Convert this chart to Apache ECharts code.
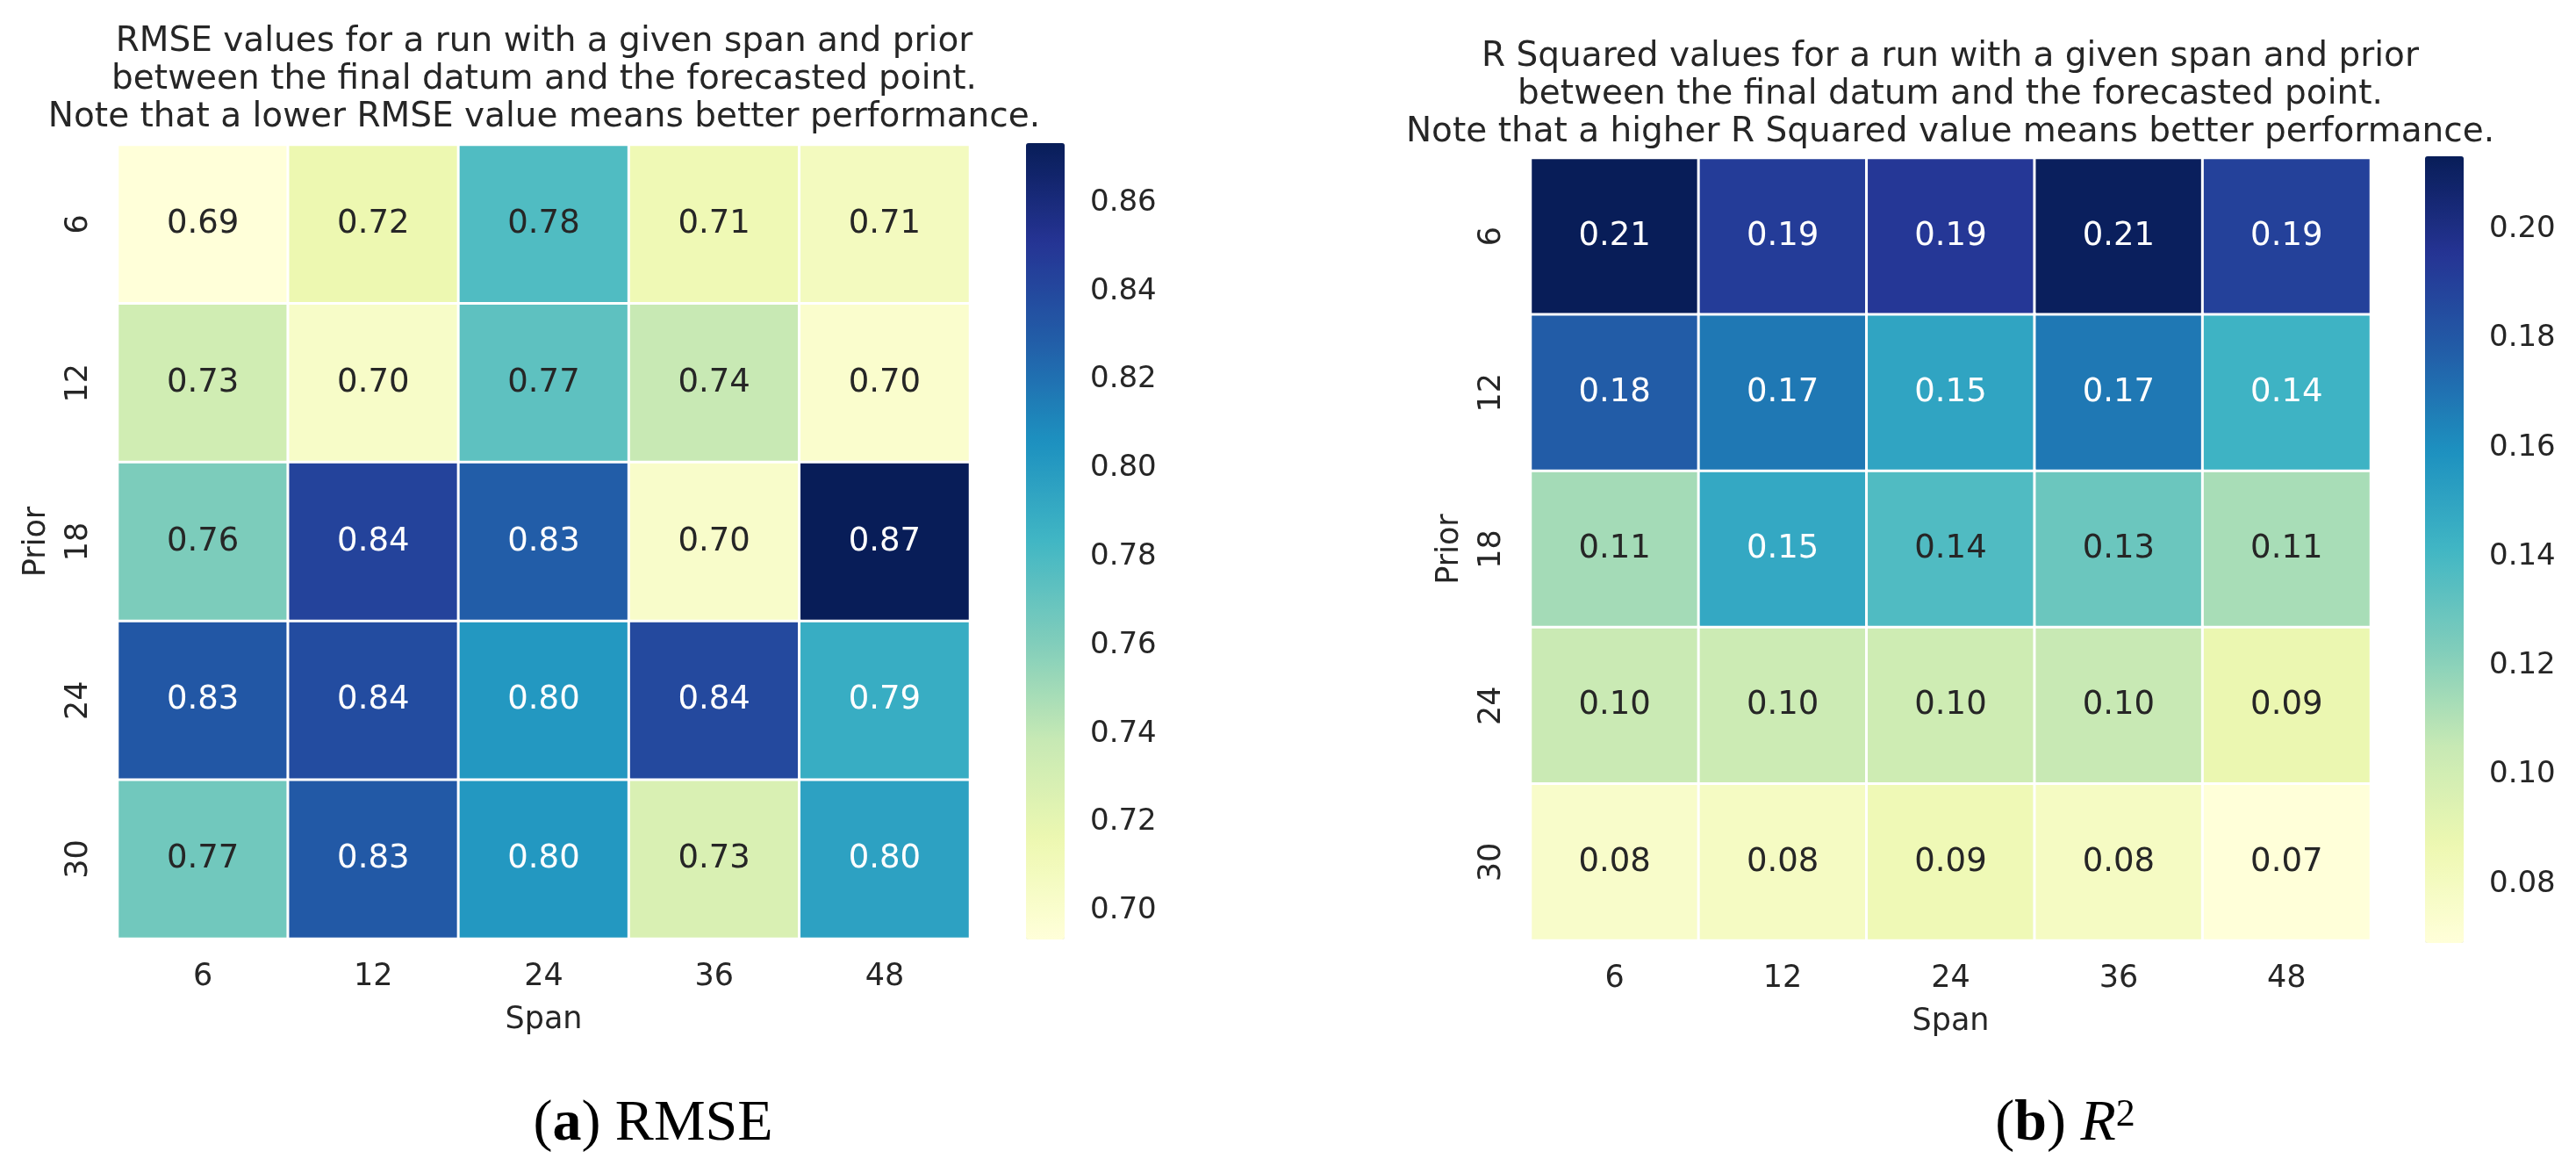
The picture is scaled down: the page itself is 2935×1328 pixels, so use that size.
<!DOCTYPE html>
<html>
<head>
<meta charset="utf-8">
<script src="https://cdn.jsdelivr.net/npm/echarts@6/dist/echarts.min.js"></script>
<style>html,body{margin:0;padding:0;background:#fff}#c{width:2935px;height:1328px}</style>
</head>
<body>
<div id="c"></div>
<script>
const spans = ['6', '12', '24', '36', '48'];
const priors = ['6', '12', '18', '24', '30'];
// rows: prior 6..30, cols: span 6..48
const rmse = [
  [0.6935, 0.716, 0.778, 0.714, 0.708],
  [0.733, 0.703, 0.773, 0.738, 0.700],
  [0.762, 0.843, 0.829, 0.702, 0.8735],
  [0.832, 0.838, 0.802, 0.840, 0.789],
  [0.766, 0.831, 0.802, 0.728, 0.796]
];
const r2 = [
  [0.2134, 0.192, 0.194, 0.212, 0.190],
  [0.178, 0.168, 0.150, 0.168, 0.143],
  [0.114, 0.148, 0.137, 0.129, 0.113],
  [0.104, 0.103, 0.102, 0.105, 0.088],
  [0.076, 0.079, 0.085, 0.079, 0.0692]
];
const rmseTicks = [0.70, 0.72, 0.74, 0.76, 0.78, 0.80, 0.82, 0.84, 0.86];
const r2Ticks = [0.08, 0.10, 0.12, 0.14, 0.16, 0.18, 0.20];
const rmseTitle = 'RMSE values for a run with a given span and prior\nbetween the final datum and the forecasted point.\nNote that a lower RMSE value means better performance.';
const r2Title = 'R Squared values for a run with a given span and prior\nbetween the final datum and the forecasted point.\nNote that a higher R Squared value means better performance.';

const YlGnBu = ['#ffffd9','#edf8b1','#c7e9b4','#7fcdbb','#41b6c4','#1d91c0','#225ea8','#253494','#081d58'];
const FONT = 'DejaVu Sans';
const TXT = '#262626';

function flat(m) { return [].concat(...m); }
function hexRgb(h) { return [1,3,5].map(i => parseInt(h.substr(i,2),16)/255); }
function cmap(t) {
  t = Math.max(0, Math.min(1, t));
  const p = t * (YlGnBu.length - 1), i = Math.min(Math.floor(p), YlGnBu.length - 2), f = p - i;
  const a = hexRgb(YlGnBu[i]), b = hexRgb(YlGnBu[i+1]);
  return a.map((x, k) => x + (b[k]-x)*f);
}
function lum(rgb) {
  const c = rgb.map(x => x <= 0.03928 ? x/12.92 : Math.pow((x+0.055)/1.055, 2.4));
  return 0.2126*c[0] + 0.7152*c[1] + 0.0722*c[2];
}
function toData(m, min, max) {
  const out = [];
  m.forEach((row, yi) => row.forEach((v, xi) => {
    const col = lum(cmap((v - min)/(max - min))) > 0.408 ? TXT : '#ffffff';
    out.push({value: [xi, yi, v], label: {color: col}});
  }));
  return out;
}

const rMin = Math.min(...flat(rmse)), rMax = Math.max(...flat(rmse));
const qMin = Math.min(...flat(r2)), qMax = Math.max(...flat(r2));

const G = [
  {left: 134, top: 165, width: 971, height: 904},
  {left: 1169, top: 163, width: 44, height: 907},
  {left: 1744, top: 180, width: 957, height: 891},
  {left: 2763, top: 178, width: 44, height: 896}
];

function catX(gi) {
  return {
    type: 'category', gridIndex: gi, data: spans, name: 'Span', nameLocation: 'middle', nameGap: 75,
    nameTextStyle: {fontFamily: FONT, fontSize: 35, color: TXT},
    axisLine: {show: false}, axisTick: {show: false}, splitLine: {show: false},
    axisLabel: {fontFamily: FONT, fontSize: 35, color: TXT, margin: 26}
  };
}
function catY(gi) {
  return {
    type: 'category', gridIndex: gi, data: priors, inverse: true, name: 'Prior', nameLocation: 'middle', nameGap: 75,
    nameTextStyle: {fontFamily: FONT, fontSize: 35, color: TXT},
    axisLine: {show: false}, axisTick: {show: false}, splitLine: {show: false},
    axisLabel: {fontFamily: FONT, fontSize: 35, color: TXT, margin: 27, rotate: 90}
  };
}
function hiddenX(gi) {
  return {type: 'value', gridIndex: gi, show: false, min: 0, max: 1};
}
function barY(gi, min, max, ticks) {
  return {
    type: 'value', gridIndex: gi, position: 'right', min: min, max: max,
    axisLine: {show: false}, splitLine: {show: false},
    axisTick: {show: true, length: 16, lineStyle: {color: TXT, width: 3}, customValues: ticks},
    axisLabel: {show: true, customValues: ticks, formatter: v => v.toFixed(2), fontFamily: FONT, fontSize: 34, color: TXT, margin: 29}
  };
}
function heat(xi, m, min, max) {
  return {
    type: 'heatmap', xAxisIndex: xi, yAxisIndex: xi, data: toData(m, min, max),
    itemStyle: {borderColor: '#ffffff', borderWidth: 3},
    label: {show: true, formatter: p => p.value[2].toFixed(2), fontFamily: FONT, fontSize: 37},
    emphasis: {disabled: true}
  };
}
const serif = 'Liberation Serif';
const capRich = {
  p: {fontFamily: serif, fontSize: 66, fontWeight: 'normal', color: '#000'},
  b: {fontFamily: serif, fontSize: 66, fontWeight: 'bold', color: '#000'},
  r: {fontFamily: serif, fontSize: 66, fontWeight: 'normal', color: '#000'},
  i: {fontFamily: serif, fontSize: 66, fontWeight: 'normal', fontStyle: 'italic', color: '#000'},
  s: {fontFamily: serif, fontSize: 44, fontWeight: 'normal', color: '#000', verticalAlign: 'top'}
};

const option = {
  backgroundColor: '#ffffff',
  animation: false,
  textStyle: {fontFamily: FONT},
  title: [
    {text: rmseTitle, left: 620, top: 26, textAlign: 'center', padding: 0,
     textStyle: {fontFamily: FONT, fontSize: 39, fontWeight: 'normal', color: TXT, lineHeight: 43}},
    {text: r2Title, left: 2222, top: 43, textAlign: 'center', padding: 0,
     textStyle: {fontFamily: FONT, fontSize: 39, fontWeight: 'normal', color: TXT, lineHeight: 43}},
    {text: '{p|(}{b|a}{p|) }{r|RMSE}', left: 744, top: 1248, textAlign: 'center', padding: 0,
     textStyle: {fontWeight: 'normal', rich: capRich}},
    {text: '{p|(}{b|b}{p|) }{i|R}{s|2}', left: 2353, top: 1248, textAlign: 'center', padding: 0,
     textStyle: {fontWeight: 'normal', rich: capRich}}
  ],
  grid: G,
  xAxis: [catX(0), hiddenX(1), catX(2), hiddenX(3)],
  yAxis: [catY(0), barY(1, rMin, rMax, rmseTicks), catY(2), barY(3, qMin, qMax, r2Ticks)],
  visualMap: [
    {type: 'continuous', seriesIndex: 0, min: rMin, max: rMax, inRange: {color: YlGnBu},
     left: 1169, top: 163, itemWidth: 44, itemHeight: 907, padding: 0, calculable: false, hoverLink: false},
    {type: 'continuous', seriesIndex: 1, min: qMin, max: qMax, inRange: {color: YlGnBu},
     left: 2763, top: 178, itemWidth: 44, itemHeight: 896, padding: 0, calculable: false, hoverLink: false}
  ],
  series: [heat(0, rmse, rMin, rMax), heat(2, r2, qMin, qMax)]
};

const chart = echarts.init(document.getElementById('c'), null, {renderer: 'canvas'});
chart.setOption(option);
</script>
</body>
</html>
